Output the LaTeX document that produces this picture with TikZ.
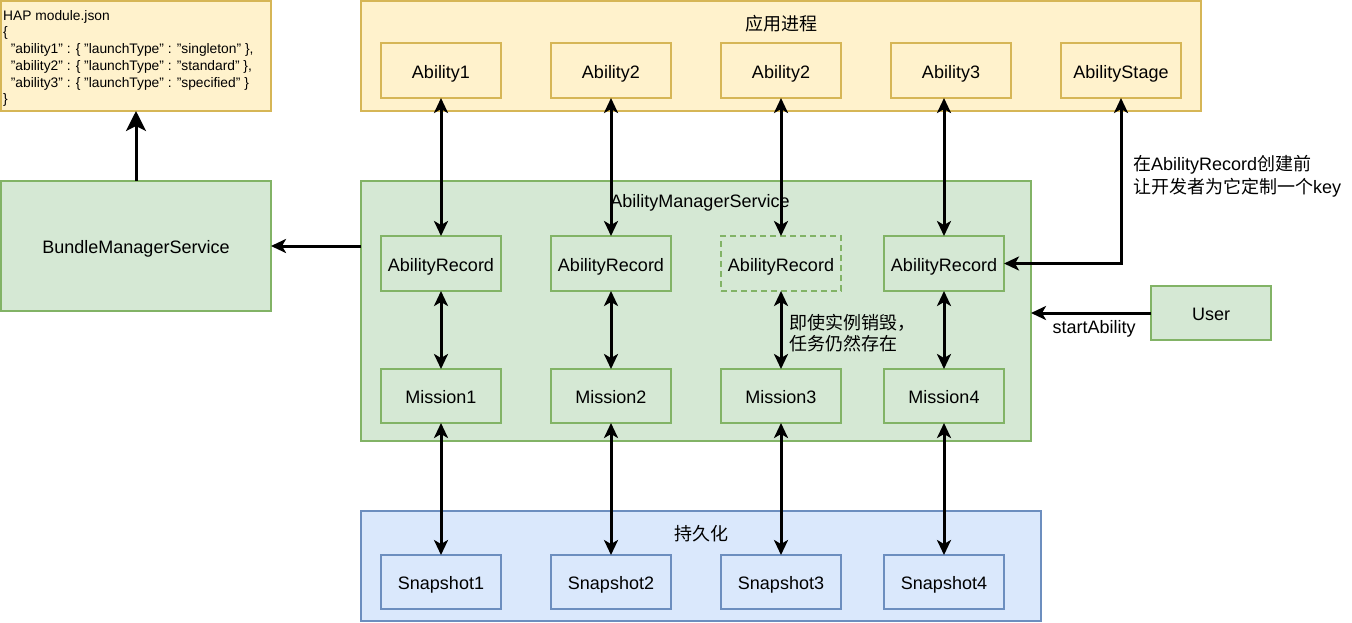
\documentclass[tikz,border=0pt]{standalone}
\usepackage{fontspec}
\setmainfont{Liberation Sans}
\newfontfamily\cjk{Noto Sans CJK SC}
\usetikzlibrary{arrows.meta}
\definecolor{yfill}{HTML}{FFF2CC}
\definecolor{ystroke}{HTML}{D6B656}
\definecolor{gfill}{HTML}{D5E8D4}
\definecolor{gstroke}{HTML}{82B366}
\definecolor{bfill}{HTML}{DAE8FC}
\definecolor{bstroke}{HTML}{6C8EBF}
\begin{document}
\begin{tikzpicture}[x=1pt,y=-1pt,
  box/.style={draw, rectangle, line width=1.6pt, inner sep=0pt, outer sep=0pt,
    minimum width=120pt, minimum height=55pt, text height=15.3pt, text depth=0pt,
    font=\fontsize{18}{21.5}\selectfont},
  ybox/.style={box, fill=yfill, draw=ystroke},
  gbox/.style={box, fill=gfill, draw=gstroke},
  bbox/.style={box, fill=bfill, draw=bstroke},
  gdash/.style={gbox, dash pattern=on 6pt off 4pt},
  lbl/.style={inner sep=0pt, font=\fontsize{18}{21.5}\selectfont, text=black},
  conn/.style={line width=3pt, -{Stealth[length=15pt,width=14pt,inset=4pt]}},
  bigconn/.style={line width=3pt, -{Stealth[length=20pt,width=20pt,inset=5pt]}},
  dconn/.style={line width=3pt, {Stealth[length=15pt,width=14pt,inset=4pt]}-{Stealth[length=15pt,width=14pt,inset=4pt]}},
]
\useasboundingbox (0,0) rectangle (1352,622);

% containers
\node[ybox, minimum width=270pt, minimum height=110pt] (json) at (136,56) {};
\node[ybox, minimum width=840pt, minimum height=110pt] (app) at (781,56) {};
\node[gbox, minimum width=670pt, minimum height=260pt] (ams) at (696,311) {};
\node[bbox, minimum width=680pt, minimum height=110pt] (pers) at (701,566) {};
\node[gbox, minimum width=270pt, minimum height=130pt] (bms) at (136,246) {BundleManagerService};
\node[gbox, minimum height=54pt] (user) at (1211,313) {User};

% titles
\node[lbl] (apptitle) at (781,23.5) {\cjk 应用进程};
\node[lbl] (amstitle) at (700,202.5) {AbilityManagerService};
\node[lbl] (perstitle) at (701,533.5) {\cjk 持久化};

% json text
\node[inner sep=0pt, anchor=north west, align=left,
  font=\fontsize{13.8}{16.7}\selectfont] (jsontext) at (3,10)
  {HAP module.json\\
   \{\\
   ~~"ability1" : \{ "launchType" : "singleton" \},\\
   ~~"ability2" : \{ "launchType" : "standard" \},\\
   ~~"ability3" : \{ "launchType" : "specified" \}\\
   \}};

% abilities
\node[ybox] (a1) at (441,70.5) {Ability1};
\node[ybox] (a2) at (611,70.5) {Ability2};
\node[ybox] (a2b) at (781,70.5) {Ability2};
\node[ybox] (a3) at (951,70.5) {Ability3};
\node[ybox] (stage) at (1121,70.5) {AbilityStage};

% ability records
\node[gbox] (ar1) at (441,263.5) {AbilityRecord};
\node[gbox] (ar2) at (611,263.5) {AbilityRecord};
\node[gdash] (ar3) at (781,263.5) {AbilityRecord};
\node[gbox] (ar4) at (944,263.5) {AbilityRecord};

% missions
\node[gbox, minimum height=54pt] (m1) at (441,396) {Mission1};
\node[gbox, minimum height=54pt] (m2) at (611,396) {Mission2};
\node[gbox, minimum height=54pt] (m3) at (781,396) {Mission3};
\node[gbox, minimum height=54pt] (m4) at (944,396) {Mission4};

% snapshots
\node[bbox, minimum height=54pt] (s1) at (441,582) {Snapshot1};
\node[bbox, minimum height=54pt] (s2) at (611,582) {Snapshot2};
\node[bbox, minimum height=54pt] (s3) at (781,582) {Snapshot3};
\node[bbox, minimum height=54pt] (s4) at (944,582) {Snapshot4};

% connectors
\draw[bigconn] (bms.north) -- (json.south);
\draw[conn] (ams.west |- bms.east) -- (bms.east);

\draw[dconn] (a1.south) -- (ar1.north);
\draw[dconn] (a2.south) -- (ar2.north);
\draw[dconn] (a2b.south) -- (ar3.north);
\draw[dconn] (ar4.north |- a3.south) -- (ar4.north);

\draw[dconn] (ar1.south) -- (m1.north);
\draw[dconn] (ar2.south) -- (m2.north);
\draw[dconn] (ar3.south) -- (m3.north);
\draw[dconn] (ar4.south) -- (m4.north);

\draw[dconn] (m1.south) -- (s1.north);
\draw[dconn] (m2.south) -- (s2.north);
\draw[dconn] (m3.south) -- (s3.north);
\draw[dconn] (m4.south) -- (s4.north);

\draw[dconn] (ar4.east) -- (ar4.east -| stage.south) -- (stage.south);
\draw[conn] (user.west) -- (user.west -| ams.east);

% labels
\node[lbl, anchor=west, align=left, font=\fontsize{18}{23}\selectfont] (keylbl) at (1133,176)
  {{\cjk 在}AbilityRecord{\cjk 创建前}\\{\cjk 让开发者为它定制一个}key};
\node[lbl, anchor=west, align=left, font=\fontsize{18}{21.5}\selectfont] (destroylbl) at (789,333)
  {{\cjk 即使实例销毁，}\\{\cjk 任务仍然存在}};
\node[lbl] (startlbl) at (1094,328.5) {startAbility};
\end{tikzpicture}
\end{document}
